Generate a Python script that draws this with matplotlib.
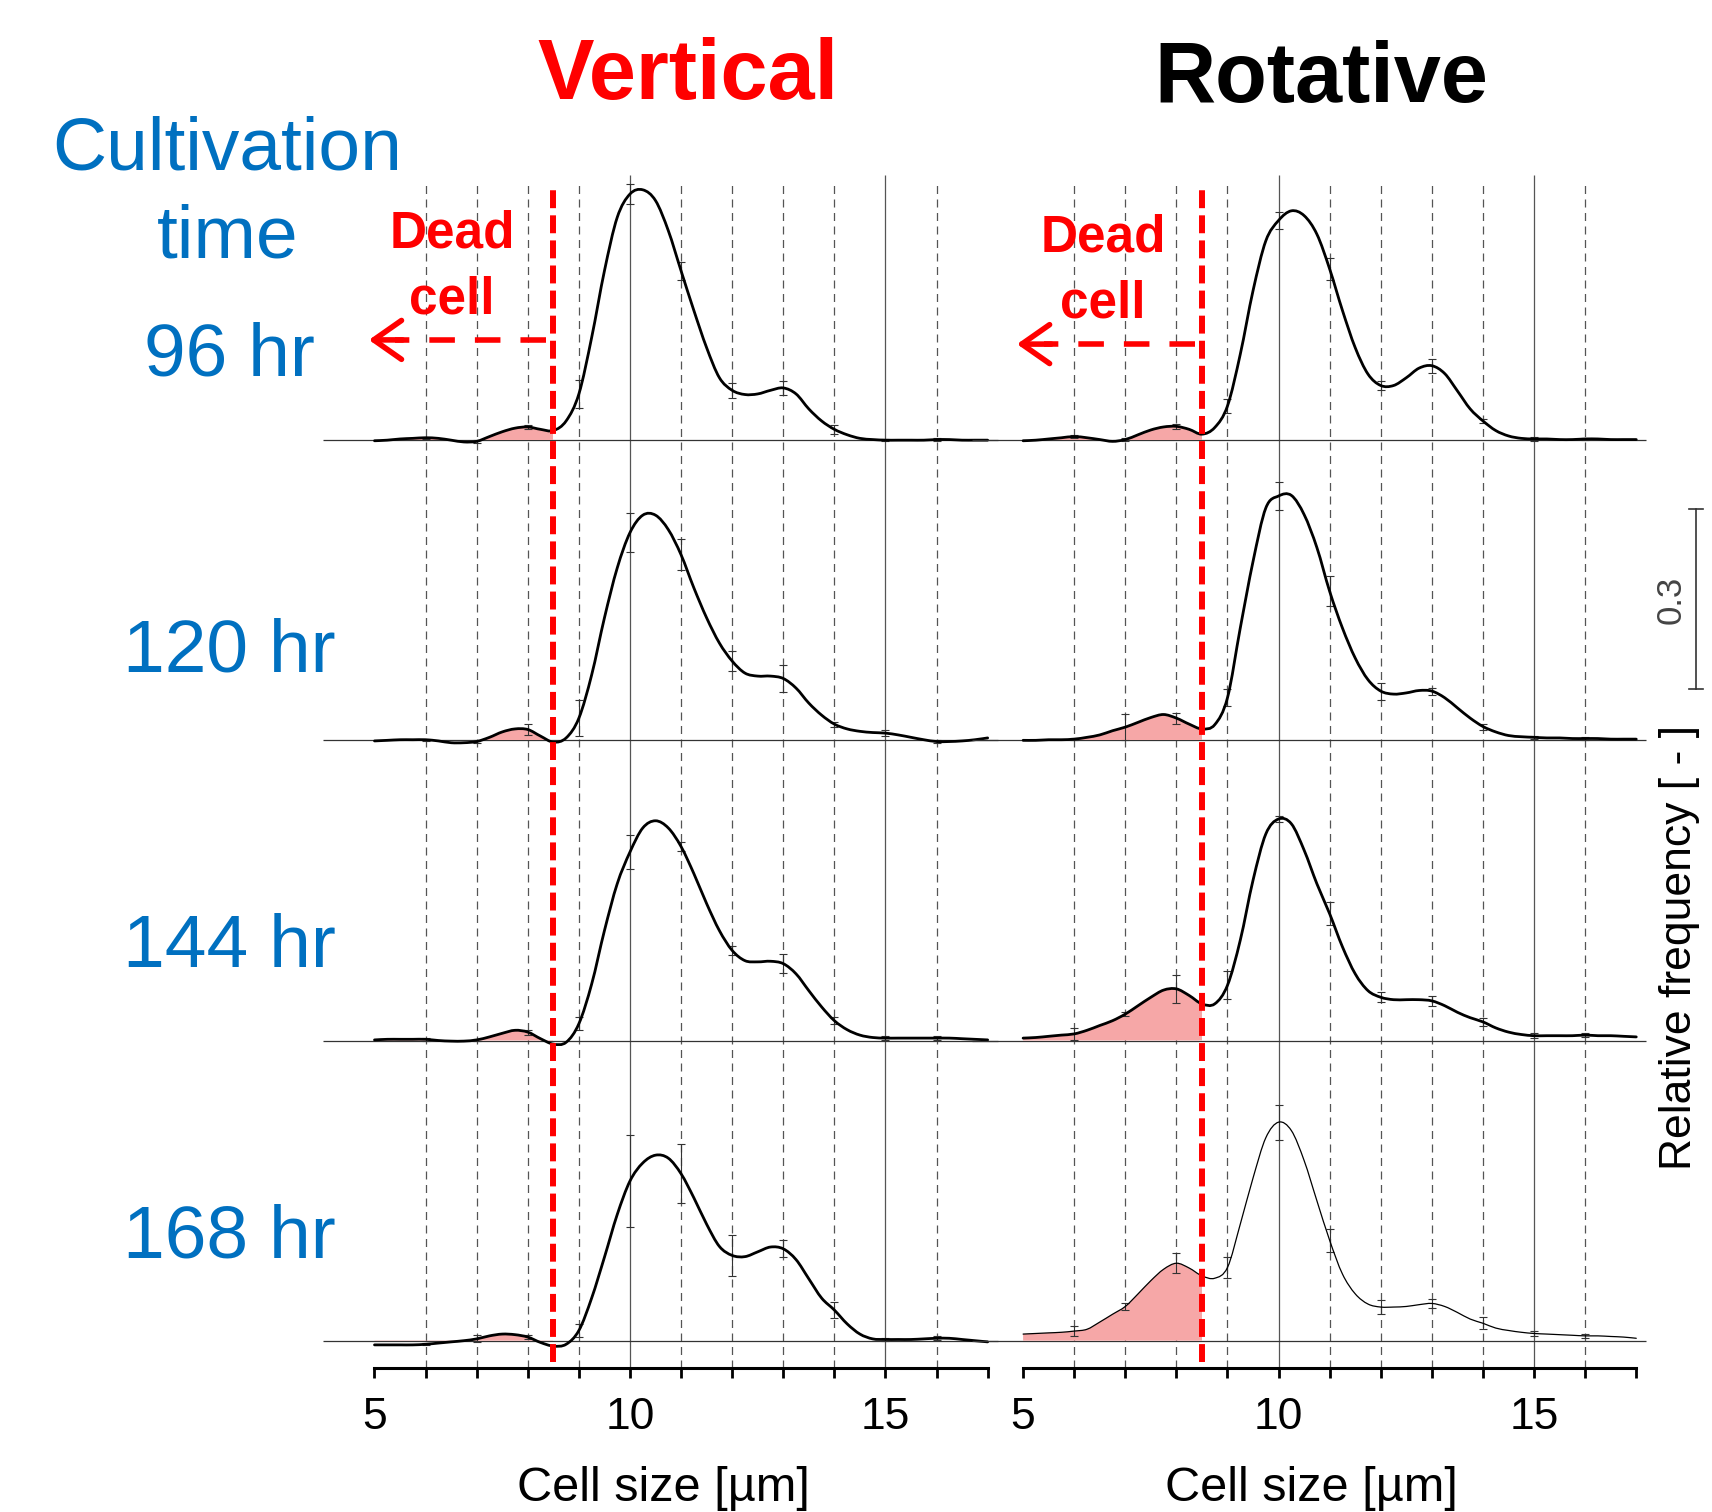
import matplotlib.pyplot as plt
import numpy as np
from matplotlib.path import Path
from matplotlib.patches import PathPatch, Rectangle

plt.rcParams['font.family'] = ['Liberation Sans', 'DejaVu Sans']

W, H = 1712, 1512

# cell size grid (um) the curves were read on, and the sizes with error bars
size = np.linspace(5, 17, 49)
err_size = [6, 7, 8, 9, 10, 11, 12, 13, 14, 15, 16]
hours = ['96 hr', '120 hr', '144 hr', '168 hr']

# relative frequency, Vertical culture
vert_96 = [
    -0.001, 0.000, 0.002, 0.003,
    0.004, 0.003, 0.000, -0.003,
    -0.002, 0.006, 0.014, 0.020,
    0.022, 0.018, 0.016, 0.032,
    0.077, 0.171, 0.282, 0.371,
    0.410, 0.417, 0.399, 0.349,
    0.282, 0.216, 0.154, 0.104,
    0.083, 0.076, 0.077, 0.083,
    0.087, 0.077, 0.052, 0.032,
    0.018, 0.009, 0.003, 0.001,
    0.000, 0.000, 0.000, 0.000,
    0.001, 0.001, 0.000, 0.000,
    0.000,
]
vert_120 = [
    -0.001, 0.000, 0.001, 0.001,
    0.001, -0.001, -0.004, -0.004,
    -0.002, 0.005, 0.014, 0.019,
    0.018, 0.007, -0.003, 0.004,
    0.037, 0.109, 0.204, 0.287,
    0.346, 0.375, 0.375, 0.351,
    0.309, 0.254, 0.204, 0.162,
    0.132, 0.112, 0.107, 0.107,
    0.103, 0.087, 0.062, 0.042,
    0.027, 0.019, 0.015, 0.013,
    0.012, 0.009, 0.005, 0.001,
    -0.002, -0.002, -0.001, 0.001,
    0.004,
]
vert_144 = [
    0.001, 0.002, 0.002, 0.002,
    0.002, 0.000, -0.001, -0.001,
    0.001, 0.006, 0.012, 0.017,
    0.014, 0.003, -0.006, -0.003,
    0.028, 0.094, 0.183, 0.261,
    0.314, 0.354, 0.366, 0.354,
    0.323, 0.278, 0.228, 0.183,
    0.150, 0.133, 0.131, 0.132,
    0.128, 0.111, 0.083, 0.056,
    0.033, 0.018, 0.009, 0.005,
    0.004, 0.004, 0.004, 0.004,
    0.004, 0.004, 0.003, 0.002,
    0.001,
]
vert_168 = [
    -0.007, -0.007, -0.007, -0.007,
    -0.006, -0.004, -0.002, 0.000,
    0.003, 0.008, 0.011, 0.010,
    0.006, -0.003, -0.009, -0.006,
    0.017, 0.071, 0.139, 0.210,
    0.266, 0.296, 0.309, 0.304,
    0.278, 0.238, 0.194, 0.157,
    0.142, 0.140, 0.148, 0.156,
    0.153, 0.135, 0.103, 0.071,
    0.051, 0.028, 0.011, 0.003,
    0.002, 0.002, 0.002, 0.003,
    0.004, 0.004, 0.002, 0.000,
    -0.002,
]

# relative frequency, Rotative culture
rot_96 = [
    -0.001, 0.000, 0.002, 0.004,
    0.006, 0.004, 0.001, -0.002,
    0.001, 0.009, 0.017, 0.022,
    0.023, 0.018, 0.010, 0.021,
    0.057, 0.143, 0.249, 0.332,
    0.366, 0.382, 0.374, 0.343,
    0.285, 0.216, 0.154, 0.110,
    0.091, 0.091, 0.104, 0.120,
    0.124, 0.111, 0.082, 0.052,
    0.032, 0.016, 0.007, 0.003,
    0.002, 0.002, 0.001, 0.001,
    0.002, 0.002, 0.001, 0.001,
    0.001,
]
rot_120 = [
    0.000, 0.000, 0.001, 0.001,
    0.002, 0.005, 0.009, 0.016,
    0.022, 0.030, 0.038, 0.043,
    0.037, 0.027, 0.019, 0.026,
    0.071, 0.187, 0.298, 0.387,
    0.407, 0.408, 0.376, 0.321,
    0.248, 0.187, 0.137, 0.101,
    0.082, 0.077, 0.079, 0.083,
    0.082, 0.071, 0.054, 0.037,
    0.023, 0.014, 0.008, 0.006,
    0.005, 0.004, 0.004, 0.003,
    0.003, 0.003, 0.002, 0.002,
    0.002,
]
rot_144 = [
    0.004, 0.005, 0.007, 0.009,
    0.011, 0.017, 0.025, 0.033,
    0.044, 0.058, 0.072, 0.084,
    0.086, 0.075, 0.061, 0.061,
    0.092, 0.167, 0.267, 0.344,
    0.369, 0.361, 0.317, 0.261,
    0.211, 0.156, 0.111, 0.083,
    0.072, 0.068, 0.068, 0.068,
    0.066, 0.058, 0.047, 0.038,
    0.031, 0.021, 0.014, 0.010,
    0.008, 0.008, 0.008, 0.008,
    0.009, 0.008, 0.008, 0.007,
    0.006,
]
rot_168 = [
    0.011, 0.012, 0.013, 0.014,
    0.016, 0.019, 0.031, 0.044,
    0.057, 0.078, 0.100, 0.119,
    0.129, 0.121, 0.108, 0.104,
    0.122, 0.194, 0.271, 0.338,
    0.364, 0.350, 0.300, 0.233,
    0.167, 0.111, 0.078, 0.061,
    0.056, 0.056, 0.057, 0.060,
    0.062, 0.057, 0.047, 0.036,
    0.029, 0.021, 0.017, 0.014,
    0.012, 0.011, 0.010, 0.009,
    0.008, 0.008, 0.007, 0.006,
    0.004,
]

# error bar half widths at err_size
vert_96_err = [0.002, 0.002, 0.004, 0.024, 0.016, 0.015, 0.013, 0.012, 0.007, 0.002, 0.002]
vert_120_err = [0.002, 0.002, 0.009, 0.030, 0.033, 0.026, 0.016, 0.022, 0.004, 0.005, 0.002]
vert_144_err = [0.002, 0.002, 0.004, 0.011, 0.029, 0.008, 0.008, 0.016, 0.006, 0.003, 0.003]
vert_168_err = [0.002, 0.006, 0.004, 0.011, 0.076, 0.049, 0.034, 0.014, 0.014, 0.003, 0.003]
rot_96_err = [0.003, 0.002, 0.004, 0.012, 0.014, 0.018, 0.008, 0.012, 0.004, 0.003, 0.002]
rot_120_err = [0.002, 0.022, 0.009, 0.014, 0.024, 0.025, 0.014, 0.006, 0.005, 0.003, 0.002]
rot_144_err = [0.010, 0.004, 0.023, 0.023, 0.005, 0.019, 0.008, 0.008, 0.007, 0.004, 0.003]
rot_168_err = [0.009, 0.006, 0.017, 0.017, 0.029, 0.019, 0.011, 0.007, 0.010, 0.004, 0.003]

dead_limit = 8.5

BLUE = '#0070C0'
FILL = '#f6a7a7'


def fpos(x, y):
    return x / W, 1 - y / H


def smooth_path(x, y):
    # draw the read points as one smooth bezier path (catmull-rom style)
    pts = np.column_stack([x, y])
    verts = [pts[0]]
    codes = [Path.MOVETO]
    n = len(pts)
    for i in range(n - 1):
        p0 = pts[max(i - 1, 0)]
        p1 = pts[i]
        p2 = pts[i + 1]
        p3 = pts[min(i + 2, n - 1)]
        verts += [p1 + (p2 - p0) / 6, p2 - (p3 - p1) / 6, p2]
        codes += [Path.CURVE4] * 3
    return verts, codes


def draw_panel(ax, curves, errs, thin_last=False):
    ax.set_xlim(4, 17.3)
    ax.set_ylim(-0.06, 1.96)
    ax.patch.set_alpha(0)
    for s in ['top', 'left', 'right']:
        ax.spines[s].set_visible(False)
    axis_y = -0.0455
    ax.spines['bottom'].set_position(('data', axis_y))
    ax.spines['bottom'].set_bounds(5, 17)
    ax.spines['bottom'].set_linewidth(2.2)
    ax.set_yticks([])
    ax.set_xticks(range(5, 18))
    ax.set_xticklabels([str(t) if t % 5 == 0 else '' for t in range(5, 18)])
    ax.tick_params(axis='x', direction='out', length=7, width=2.0,
                   labelsize=32, pad=14)
    ax.set_xlabel('Cell size [µm]', fontsize=35, labelpad=20)

    # grid
    dashed = [6, 7, 8, 9, 11, 12, 13, 14, 16]
    ax.vlines(dashed, axis_y, 1.93, colors='#555555', lw=0.9,
              linestyles=(0, (6.4, 4.4)), zorder=1)
    ax.vlines([10, 15], axis_y, 1.942, colors='#555555', lw=0.9, zorder=1)

    offsets = [1.5, 1.0, 0.5, 0.0]
    x = np.asarray(size)
    for i, (y, e, off) in enumerate(zip(curves, errs, offsets)):
        y = np.asarray(y)
        ax.hlines(off, 4.0, 17.2, colors='#333333', lw=0.9, zorder=2)

        verts, codes = smooth_path(x, off + y)

        # dead cell area: left of the limit, above the baseline
        fv = [(x[0], off)] + verts + [(x[-1], off), (x[0], off)]
        fc = [Path.MOVETO, Path.LINETO] + codes[1:] + [Path.LINETO, Path.CLOSEPOLY]
        fill = PathPatch(Path(fv, fc), facecolor=FILL, edgecolor='none', zorder=2)
        ax.add_patch(fill)
        clip = Rectangle((4.5, off), dead_limit - 4.5, 0.45,
                         transform=ax.transData, visible=False)
        ax.add_patch(clip)
        fill.set_clip_path(clip)

        lw = 0.9 if (thin_last and i == 3) else 2.0
        ax.add_patch(PathPatch(Path(verts, codes), facecolor='none',
                               edgecolor='black', lw=lw, zorder=4,
                               capstyle='round', joinstyle='round'))
        yc = np.interp(err_size, x, y)
        ax.errorbar(err_size, off + yc, yerr=e, fmt='none', ecolor='#333333',
                    elinewidth=0.8, capsize=3, capthick=0.8, zorder=3)

    ax.vlines(dead_limit, -0.035, 1.92, colors='red', lw=4.3,
              linestyles=(0, (3.0, 1.2)), zorder=5)


fig = plt.figure(figsize=(W / 100, H / 100), dpi=100)

ax_l = fig.add_axes([323.4 / W, 1 - 1376.7 / H, 679.6 / W, 1212.7 / H])
ax_r = fig.add_axes([972.0 / W, 1 - 1376.7 / H, 679.6 / W, 1212.7 / H])

draw_panel(ax_l, [vert_96, vert_120, vert_144, vert_168],
           [vert_96_err, vert_120_err, vert_144_err, vert_168_err])
draw_panel(ax_r, [rot_96, rot_120, rot_144, rot_168],
           [rot_96_err, rot_120_err, rot_144_err, rot_168_err], thin_last=True)

# dead cell arrows
for ax, y_arr, x_tip in [(ax_l, 1.667, 4.89), (ax_r, 1.66, 4.88)]:
    ax.plot([8.36, 5.4], [y_arr, y_arr], color='red', lw=4.0,
            linestyle=(0, (4.6, 3.6)), zorder=5, solid_capstyle='butt')
    ax.annotate('', xy=(x_tip, y_arr), xytext=(5.55, y_arr),
                arrowprops=dict(arrowstyle='->,head_length=0.5,head_width=0.35',
                                mutation_scale=40, color='red', lw=4.0,
                                shrinkA=0, shrinkB=0),
                zorder=5)

# titles
fig.text(*fpos(688, 99), 'Vertical', color='red', fontsize=61,
         fontweight='bold', ha='center', va='baseline')
fig.text(*fpos(1321, 102), 'Rotative', color='black', fontsize=61,
         fontweight='bold', ha='center', va='baseline')

# cultivation time labels
fig.text(*fpos(227, 169), 'Cultivation', color=BLUE, fontsize=54,
         ha='center', va='baseline')
fig.text(*fpos(228, 258), 'time', color=BLUE, fontsize=54,
         ha='center', va='baseline')
for lab, yb in zip(hours, [375, 671, 967, 1258]):
    fig.text(*fpos(229, yb), lab, color=BLUE, fontsize=54,
             ha='center', va='baseline')

# dead cell labels
for xc, y1, y2 in [(452, 248, 313), (1103, 252, 317)]:
    fig.text(*fpos(xc, y1), 'Dead', color='red', fontsize=37,
             fontweight='bold', ha='center', va='baseline')
    fig.text(*fpos(xc, y2), 'cell', color='red', fontsize=37,
             fontweight='bold', ha='center', va='baseline')

# scale bar for relative frequency
bar_x, bar_top, bar_bot = 1696, 509, 689
fig.add_artist(plt.Line2D([bar_x / W, bar_x / W], [1 - bar_top / H, 1 - bar_bot / H],
                          color='#333333', lw=1.2))
for yy in [bar_top, bar_bot]:
    fig.add_artist(plt.Line2D([(bar_x - 7) / W, (bar_x + 7) / W],
                              [1 - yy / H, 1 - yy / H], color='#333333', lw=1.2))
fig.text(*fpos(1671, 600), '0.3', color='#444444', fontsize=25,
         rotation=90, ha='center', va='center')
fig.text(*fpos(1680, 947), 'Relative frequency [ - ]', color='black',
         fontsize=32, rotation=90, ha='center', va='center')

fig.savefig('out.png', dpi=100)
